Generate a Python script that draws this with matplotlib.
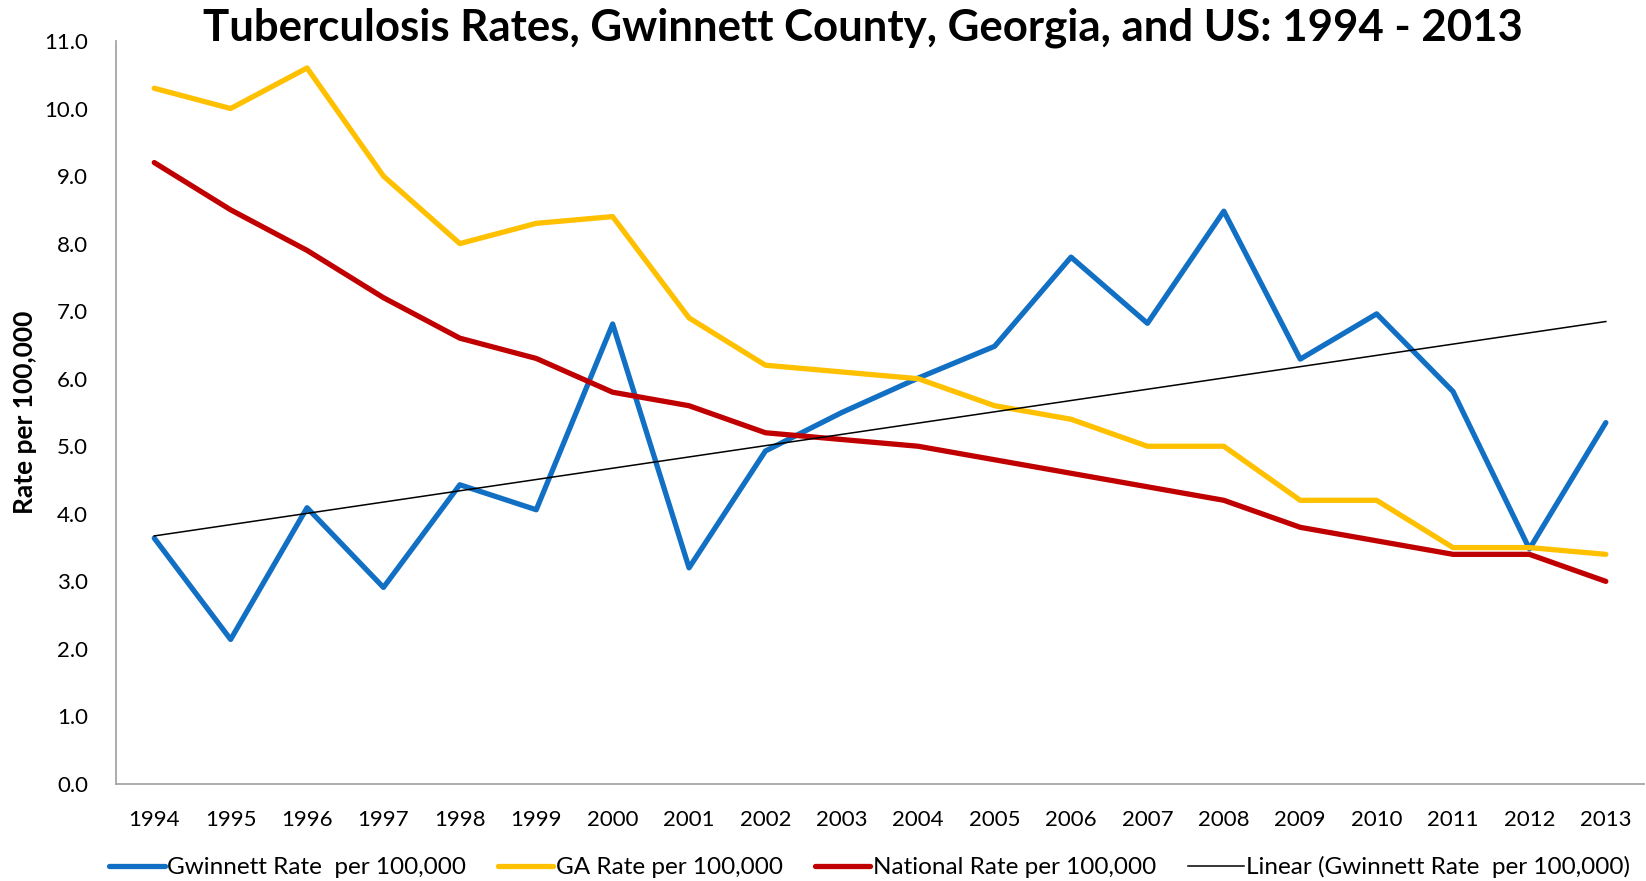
#Taux de tuberculose : Gwinnett, Georgie et USA

import numpy as np
import matplotlib
matplotlib.use("Agg")
import matplotlib.pyplot as plt
from matplotlib.ticker import FormatStrFormatter

#### Donnees ####
years = ["1994", "1995", "1996", "1997", "1998", "1999", "2000", "2001", "2002", "2003",
         "2004", "2005", "2006", "2007", "2008", "2009", "2010", "2011", "2012", "2013"]
gwinnett = [3.64, 2.14, 4.09, 2.91, 4.43, 4.06, 6.81, 3.20, 4.93, 5.50,
            6.01, 6.48, 7.80, 6.82, 8.48, 6.29, 6.96, 5.81, 3.48, 5.35]
georgia = [10.3, 10.0, 10.6, 9.0, 8.0, 8.3, 8.4, 6.9, 6.2, 6.1,
           6.0, 5.6, 5.4, 5.0, 5.0, 4.2, 4.2, 3.5, 3.5, 3.4]
national = [9.2, 8.5, 7.9, 7.2, 6.6, 6.3, 5.8, 5.6, 5.2, 5.1,
            5.0, 4.8, 4.6, 4.4, 4.2, 3.8, 3.6, 3.4, 3.4, 3.0]

plt.rcParams['font.family'] = ['Lato', 'DejaVu Sans']

x = np.arange(len(years))
# tendance lineaire (comme Excel)
coef = np.polyfit(x, gwinnett, 1)
trend = np.polyval(coef, x)

fig = plt.figure(figsize=(16.46, 8.81), dpi=100)
ax = fig.add_axes([0.0705, 0.1101, 0.9283, 0.8434])

kw = dict(linewidth=3.8, solid_capstyle='round', solid_joinstyle='round')
ax.plot(x, gwinnett, color='#1270C4', label="Gwinnett Rate  per 100,000", **kw)
ax.plot(x, georgia, color='#FFC000', label="GA Rate per 100,000", **kw)
ax.plot(x, national, color='#C00000', label="National Rate per 100,000", **kw)
ax.plot(x, trend, color='black', linewidth=1.1, label="Linear (Gwinnett Rate  per 100,000)")

ax.set_xlim(-0.5, len(years) - 0.5)
ax.set_ylim(0, 11)
ax.set_xticks(x)
ax.set_xticklabels(years)
ax.set_yticks(np.arange(0, 12, 1))
ax.yaxis.set_major_formatter(FormatStrFormatter('%.1f'))
ax.tick_params(axis='both', length=0, labelsize=16, colors='black')
ax.tick_params(axis='y', pad=20)
ax.tick_params(axis='x', pad=19)

for s in ['top', 'right']:
    ax.spines[s].set_visible(False)
for s in ['left', 'bottom']:
    ax.spines[s].set_color('#A6A6A6')
    ax.spines[s].set_linewidth(1.3)

ax.set_ylabel("Rate per 100,000", fontsize=19, fontweight='bold')
ax.yaxis.set_label_coords(-0.0515, 0.5)

fig.text(0.524, 0.9535, "Tuberculosis Rates, Gwinnett County, Georgia, and US: 1994 - 2013",
         ha='center', va='baseline', fontsize=31.5, fontweight='bold')

ax.legend(loc='center', bbox_to_anchor=(0.493, -0.112), ncol=4, frameon=False,
          fontsize=17.5, handlelength=2.3, handletextpad=0.1, columnspacing=1.3)

fig.savefig("out.png", dpi=100)
